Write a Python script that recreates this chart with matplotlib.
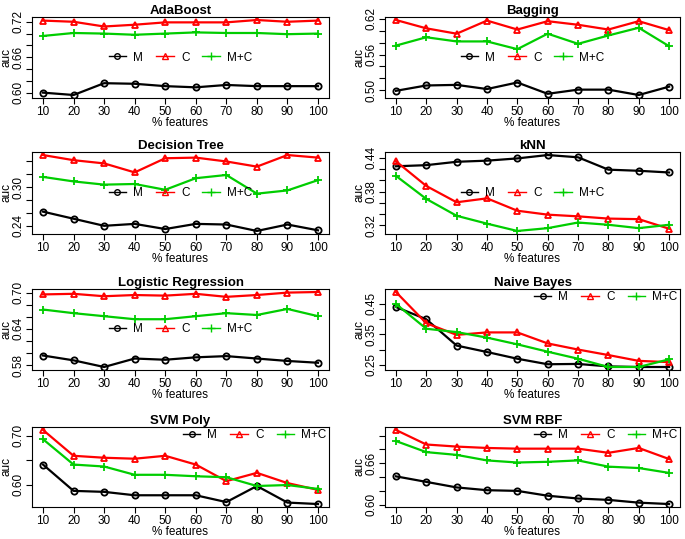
import matplotlib.pyplot as plt
from matplotlib.lines import Line2D

plt.rcParams["font.family"] = ["Liberation Sans", "DejaVu Sans"]

features = [10, 20, 30, 40, 50, 60, 70, 80, 90, 100]

# AdaBoost
ada_m = [0.600, 0.596, 0.616, 0.615, 0.611, 0.609, 0.613, 0.611, 0.611, 0.611]
ada_c = [0.722, 0.720, 0.712, 0.715, 0.719, 0.719, 0.719, 0.723, 0.720, 0.722]
ada_mc = [0.696, 0.701, 0.700, 0.698, 0.700, 0.702, 0.701, 0.701, 0.699, 0.700]

# Bagging
bag_m = [0.499, 0.508, 0.509, 0.502, 0.513, 0.494, 0.501, 0.501, 0.492, 0.506]
bag_c = [0.618, 0.604, 0.595, 0.617, 0.602, 0.616, 0.610, 0.602, 0.616, 0.601]
bag_mc = [0.575, 0.589, 0.582, 0.582, 0.569, 0.595, 0.578, 0.592, 0.605, 0.574]

# Decision Tree
dt_m = [0.262, 0.251, 0.240, 0.243, 0.235, 0.243, 0.242, 0.232, 0.242, 0.233]
dt_c = [0.350, 0.342, 0.337, 0.323, 0.345, 0.346, 0.340, 0.332, 0.350, 0.346]
dt_mc = [0.316, 0.309, 0.304, 0.305, 0.296, 0.314, 0.319, 0.290, 0.295, 0.311]

# kNN
knn_m = [0.425, 0.427, 0.433, 0.435, 0.439, 0.445, 0.441, 0.419, 0.417, 0.414]
knn_c = [0.434, 0.390, 0.361, 0.368, 0.346, 0.339, 0.336, 0.332, 0.331, 0.314]
knn_mc = [0.408, 0.367, 0.337, 0.323, 0.310, 0.315, 0.325, 0.321, 0.315, 0.321]

# Logistic Regression
lr_m = [0.596, 0.588, 0.577, 0.591, 0.589, 0.593, 0.595, 0.591, 0.587, 0.584]
lr_c = [0.697, 0.698, 0.694, 0.696, 0.695, 0.698, 0.693, 0.696, 0.700, 0.701]
lr_mc = [0.672, 0.666, 0.661, 0.656, 0.656, 0.661, 0.666, 0.663, 0.673, 0.661]

# Naive Bayes
nb_m = [0.439, 0.399, 0.313, 0.292, 0.270, 0.252, 0.253, 0.245, 0.243, 0.243]
nb_c = [0.488, 0.386, 0.348, 0.356, 0.356, 0.320, 0.300, 0.282, 0.263, 0.259]
nb_mc = [0.449, 0.368, 0.357, 0.339, 0.317, 0.293, 0.270, 0.243, 0.243, 0.268]

# SVM Poly
svp_m = [0.641, 0.587, 0.585, 0.578, 0.578, 0.578, 0.564, 0.597, 0.563, 0.560]
svp_c = [0.712, 0.659, 0.655, 0.653, 0.659, 0.641, 0.607, 0.624, 0.603, 0.589]
svp_mc = [0.693, 0.641, 0.637, 0.620, 0.620, 0.617, 0.615, 0.597, 0.599, 0.591]

# SVM RBF
svr_m = [0.641, 0.633, 0.625, 0.621, 0.620, 0.613, 0.609, 0.607, 0.603, 0.601]
svr_c = [0.708, 0.687, 0.684, 0.682, 0.681, 0.681, 0.681, 0.675, 0.682, 0.666]
svr_mc = [0.692, 0.676, 0.672, 0.664, 0.661, 0.662, 0.664, 0.655, 0.653, 0.646]

titles = ["AdaBoost", "Bagging", "Decision Tree", "kNN",
          "Logistic Regression", "Naive Bayes", "SVM Poly", "SVM RBF"]
series = [(ada_m, ada_c, ada_mc), (bag_m, bag_c, bag_mc), (dt_m, dt_c, dt_mc),
          (knn_m, knn_c, knn_mc), (lr_m, lr_c, lr_mc), (nb_m, nb_c, nb_mc),
          (svp_m, svp_c, svp_mc), (svr_m, svr_c, svr_mc)]
yticks = [[0.60, 0.62, 0.64, 0.66, 0.68, 0.70, 0.72],
          [0.50, 0.52, 0.54, 0.56, 0.58, 0.60, 0.62],
          [0.24, 0.26, 0.28, 0.30, 0.32, 0.34],
          [0.32, 0.34, 0.36, 0.38, 0.40, 0.42, 0.44],
          [0.58, 0.60, 0.62, 0.64, 0.66, 0.68, 0.70],
          [0.25, 0.30, 0.35, 0.40, 0.45],
          [0.60, 0.65, 0.70],
          [0.60, 0.62, 0.64, 0.66, 0.68, 0.70]]
ylabels_shown = [[0.60, 0.66, 0.72], [0.50, 0.56, 0.62], [0.24, 0.30],
                 [0.32, 0.38, 0.44], [0.58, 0.64, 0.70], [0.25, 0.35, 0.45],
                 [0.60, 0.70], [0.60, 0.66]]
legend_loc = ["center", "center", "center", "center", "center",
              "upper right", "upper right", "upper right"]

colors = ["black", "#FF0000", "#00CD00"]
markers = ["o", "^", "+"]
names = ["M", "C", "M+C"]

W, H = 685, 539
fig = plt.figure(figsize=(W / 100, H / 100), dpi=100)

col_x = [(32, 297), (385, 295)]
row_y = [(17, 98), (152, 234), (289, 370), (427, 507)]

for i, title in enumerate(titles):
    r, c = divmod(i, 2)
    x0, w = col_x[c]
    t, b = row_y[r]
    ax = fig.add_axes([x0 / W, 1 - b / H, w / W, (b - t) / H])
    for vals, col, mk in zip(series[i], colors, markers):
        ax.plot(features, vals, color=col, lw=1.6, marker=mk, ms=4.5 if mk != "+" else 6,
                mfc="none", mec=col, mew=1.3)
    ax.margins(x=0.04, y=0.04)
    ax.set_xticks(features)
    ax.set_yticks(yticks[i])
    ax.set_yticklabels(["%.2f" % v if any(abs(v - s) < 1e-9 for s in ylabels_shown[i]) else ""
                        for v in yticks[i]])
    ax.tick_params(axis="both", direction="out", length=4, width=0.8, labelsize=8.5, pad=1.5)
    ax.tick_params(axis="y", labelrotation=90)
    for lab in ax.get_yticklabels():
        lab.set_va("center")
    for sp in ax.spines.values():
        sp.set_linewidth(0.8)
    ax.set_title(title, fontsize=9.5, fontweight="bold", pad=2)
    ax.set_xlabel("% features", fontsize=8.5, labelpad=-0.5)
    ax.set_ylabel("auc", fontsize=8.5, labelpad=0)
    handles = [Line2D([], [], color=col, lw=1, marker=mk, ms=4 if mk != "+" else 5.5,
                      mfc="none", mec=col, mew=1) for col, mk in zip(colors, markers)]
    ax.legend(handles, names, loc=legend_loc[i], ncol=3, frameon=False, fontsize=8.5,
              handlelength=1.5, handletextpad=0.6, columnspacing=1.1,
              borderaxespad=0.1, borderpad=0.1)

fig.savefig("out.png", dpi=100)
